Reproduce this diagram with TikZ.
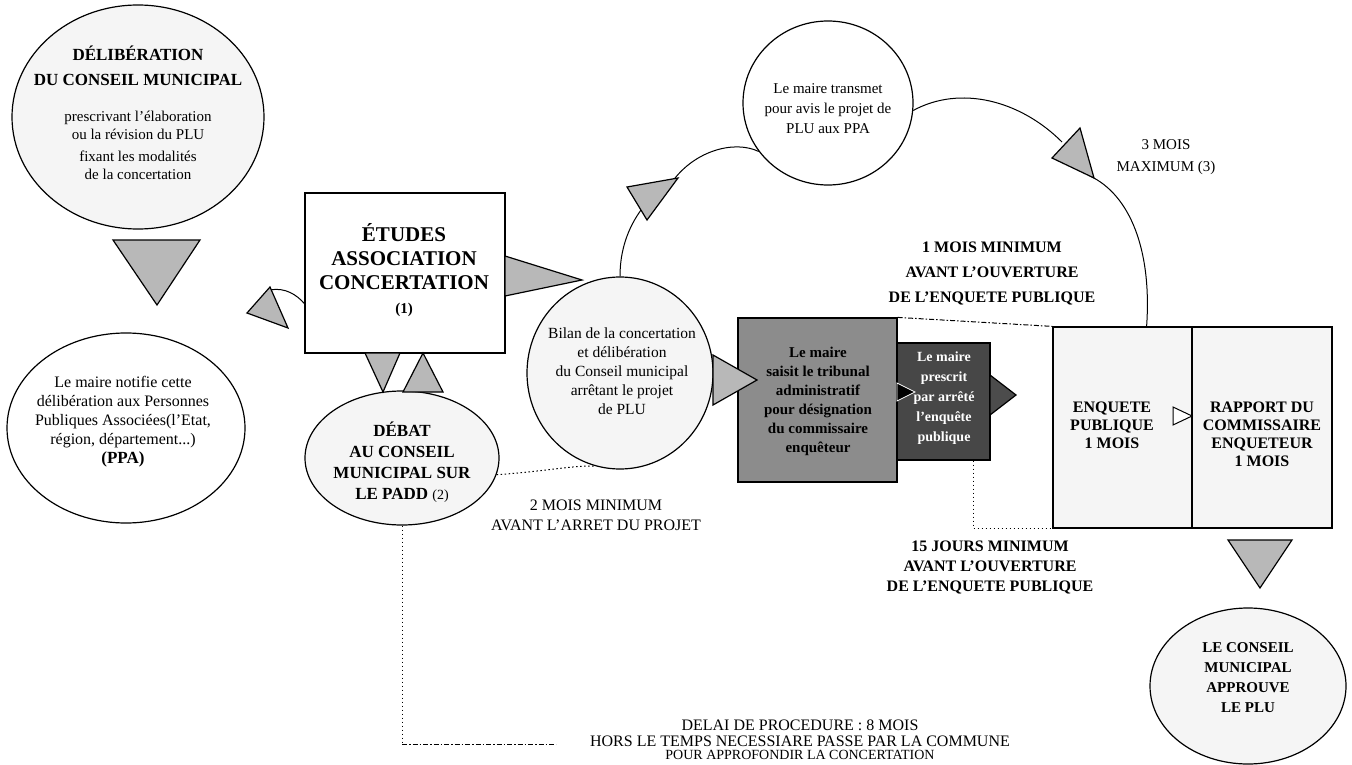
\documentclass[tikz,border=0pt]{standalone}
\usepackage{fontspec}
\setmainfont{Liberation Serif}
\usetikzlibrary{shapes.geometric,calc}
\begin{document}
\begin{tikzpicture}[x=1pt,y=-1pt,
  spk/.style={ellipse, draw=black, line width=1.2pt, fill=black!4, inner sep=0pt},
  wht/.style={ellipse, draw=black, line width=1.2pt, fill=white, inner sep=0pt},
  boxw/.style={rectangle, draw=black, line width=1.2pt, inner sep=0pt},
  tri/.style={draw=black, line width=1.2pt, fill=black!28, line join=miter},
  txt/.style={align=center, inner sep=0pt, font=\fontsize{15}{19}\selectfont},
  btxt/.style={align=center, inner sep=0pt, font=\bfseries\fontsize{16}{20}\selectfont},
  conn/.style={draw=black, line width=1pt},
  dotc/.style={draw=black, line width=1pt, dash pattern=on 1.5pt off 2.5pt},
  dashdot/.style={draw=black, line width=1pt, dash pattern=on 5pt off 2pt on 1.5pt off 2pt}
]
\useasboundingbox (0,0) rectangle (1352,765);
\clip (0,0) rectangle (1352,765);

% ---------- left column ----------
\node[spk, minimum width=252, minimum height=224] (delib) at (138,117) {};
\node[txt, font=\fontsize{15}{18}\selectfont] (delibt) at (138,113)
  {\textbf{\fontsize{17}{18}\selectfont DÉLIBÉRATION}\\[7pt]
   \textbf{\fontsize{17}{18}\selectfont DU CONSEIL MUNICIPAL}\\[18pt]
   prescrivant l'élaboration\\ou la révision du PLU\\[4pt]
   fixant les modalités\\de la concertation};

\node[wht, minimum width=238, minimum height=190] (ppa) at (126,428) {};
\node[txt, font=\fontsize{16}{19}\selectfont] (ppat) at (123,422)
  {Le maire notifie cette\\délibération aux Personnes\\Publiques Associées(l'Etat,\\région, département...)\\\textbf{\fontsize{17}{19}\selectfont (PPA)}};

\draw[tri] (113,240) -- (200,240) -- (157,305) -- cycle;

% ---------- ETUDES ----------
\node[boxw, fill=white, minimum width=200, minimum height=160] (etudes) at (405,273) {};
\node[btxt, font=\bfseries\fontsize{21}{24}\selectfont] (etudest) at (404,270)
  {ÉTUDES\\ASSOCIATION\\CONCERTATION\\{\fontsize{15}{16}\selectfont (1)}};

\coordinate (etw) at ($(etudes.south west)+(0,-50)$);
\draw[conn] (etw) .. controls (297,295) and (285,287) .. (270,290);
\draw[tri] (247,313) -- (270,287) -- (288,328) -- cycle;

% ---------- DEBAT ----------
\node[spk, minimum width=194, minimum height=134] (debat) at (402,458) {};
\node[btxt, font=\bfseries\fontsize{17}{21}\selectfont] (debatt) at (402,462)
  {DÉBAT\\AU CONSEIL\\MUNICIPAL SUR\\LE PADD {\mdseries\fontsize{14}{16}\selectfont (2)}};

\draw[tri] (365,353) -- (400,353) -- (383,392) -- cycle;
\draw[tri] (403,392) -- (443,392) -- (423,353) -- cycle;

% ---------- BILAN ----------
\node[spk, minimum width=186, minimum height=192] (bilan) at (620,373) {};
\node[txt, font=\fontsize{15.5}{19}\selectfont] (bilant) at (622,371)
  {Bilan de la concertation\\et délibération\\du Conseil municipal\\arrêtant le projet\\de PLU};

\draw[tri] (505,256) -- (582,280) -- (505,296) -- cycle;

\draw[dotc] (debat.-10) .. controls (540,472) and (575,465) .. (bilan.255);
\node[txt, font=\fontsize{16}{20}\selectfont] (twom) at (596,515)
  {2 MOIS MINIMUM\\AVANT L'ARRET DU PROJET};

% ---------- bottom delay line ----------
\coordinate (dl1) at (402,744);
\coordinate (dl2) at (556,744);
\draw[dotc] (debat.south) -- (dl1);
\draw[dashdot] (dl1) -- (dl2);
\node[txt, font=\fontsize{16}{18}\selectfont] (delai1) at (800,725) {DELAI DE PROCEDURE : 8 MOIS};
\node[txt, font=\fontsize{16}{18}\selectfont] (delai2) at (800,741) {HORS LE TEMPS NECESSIARE PASSE PAR LA COMMUNE};
\node[txt, font=\fontsize{14}{16}\selectfont] (delai3) at (800,755) {POUR APPROFONDIR LA CONCERTATION};

% ---------- Le maire transmet ----------
\node[wht, minimum width=170, minimum height=164] (trans) at (828,103) {};
\node[txt, font=\fontsize{15}{20}\selectfont] (transt) at (828,109)
  {Le maire transmet\\pour avis le projet de\\PLU aux PPA};

\draw[conn] (bilan.north) .. controls (620,250) and (628,228) .. (641,210);
\draw[conn] (672,182) .. controls (695,150) and (735,140) .. (trans.215);
\draw[tri] (627,187) -- (678,178) -- (647,220) -- cycle;

% ---------- dark boxes ----------
\node[boxw, fill=black!45, minimum width=159, minimum height=164] (box1) at (817.5,400) {};
\node[btxt, font=\bfseries\fontsize{15}{19}\selectfont] (box1t) at (818,401)
  {Le maire\\saisit le tribunal\\administratif\\pour désignation\\du commissaire\\enquêteur};
\node[boxw, fill=black!72, minimum width=93, minimum height=117] (box2) at (943.5,401.5) {};
\node[btxt, text=white, font=\bfseries\fontsize{14}{20}\selectfont] (box2t) at (944,398)
  {Le maire\\prescrit\\par arrêté\\l'enquête\\publique};

\draw[draw=white, line width=0.8pt, fill=black] (897,383) -- (915,392) -- (897,401) -- cycle;
\draw[tri, fill=black!70] (990,375) -- (1016,395) -- (990,415) -- cycle;
\draw[tri] (713,355) -- (757,380) -- (713,405) -- cycle;

% ---------- enquete / rapport ----------
\node[boxw, fill=black!4, minimum width=139, minimum height=201] (boxA) at (1122.5,427.5) {};
\node[boxw, fill=black!4, minimum width=140, minimum height=201] (boxB) at (1262,427.5) {};
\node[btxt, font=\bfseries\fontsize{16}{18}\selectfont] (boxAt) at (1112,425)
  {ENQUETE\\PUBLIQUE\\1 MOIS};
\node[btxt, font=\bfseries\fontsize{16}{18}\selectfont] (boxBt) at (1262,434)
  {RAPPORT DU\\COMMISSAIRE\\ENQUETEUR\\1 MOIS};
\draw[draw=black, line width=1pt, fill=white] (1173,407) -- (1192,416) -- (1173,425) -- cycle;

\draw[dashdot] (box1.north east) -- (boxA.north west);
\coordinate (b2c) at ($(box2.south east)+(-17,0)$);
\draw[dotc] (b2c) |- (boxA.south west);

\node[btxt, font=\bfseries\fontsize{16}{25}\selectfont] (onem) at (992,273)
  {1 MOIS MINIMUM\\AVANT L'OUVERTURE\\DE L'ENQUETE PUBLIQUE};
\node[btxt, font=\bfseries\fontsize{16}{20}\selectfont] (fifteen) at (990,567)
  {15 JOURS MINIMUM\\AVANT L'OUVERTURE\\DE L'ENQUETE PUBLIQUE};

% ---------- transmet -> enquete ----------
\coordinate (aTop) at ($(boxA.north east)+(-46,0)$);
\draw[conn] (trans.-5) .. controls (960,85) and (1020,100) .. (1062,142);
\draw[conn] (1090,176) .. controls (1130,195) and (1152,250) .. (aTop);
\draw[tri] (1080,128) -- (1052,158) -- (1094,178) -- cycle;
\node[txt, font=\fontsize{15}{22}\selectfont] (threem) at (1166,157)
  {3 MOIS\\MAXIMUM (3)};

% ---------- final ----------
\draw[tri] (1228,540) -- (1292,540) -- (1260,588) -- cycle;
\node[spk, minimum width=196, minimum height=156] (final) at (1248,686) {};
\node[btxt, font=\bfseries\fontsize{15}{20}\selectfont] (finalt) at (1248,678)
  {LE CONSEIL\\MUNICIPAL\\APPROUVE\\LE PLU};
\end{tikzpicture}
\end{document}
